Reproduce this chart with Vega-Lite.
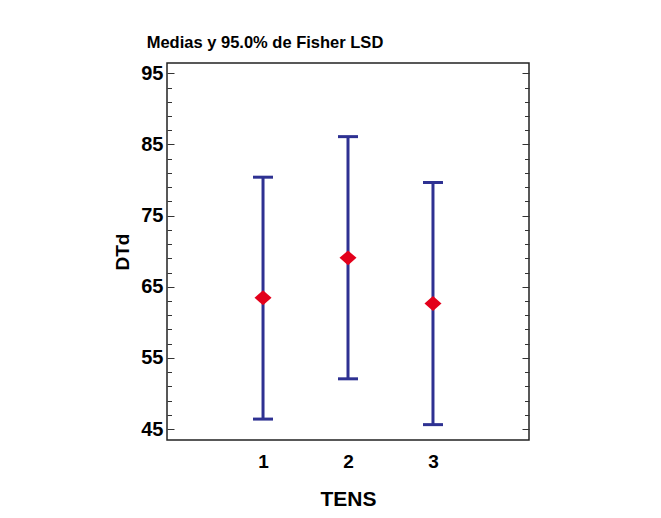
{
  "$schema": "https://vega.github.io/schema/vega-lite/v6.json",
  "width": 362,
  "height": 377,
  "autosize": "none",
  "padding": {"left": 167, "top": 63, "right": 132, "bottom": 78},
  "background": "white",
  "config": {
    "view": {"stroke": "#222222", "strokeWidth": 1.5},
    "font": "Liberation Sans"
  },
  "title": {
    "text": "Medias y 95.0% de Fisher LSD",
    "font": "Liberation Sans",
    "fontSize": 16.5,
    "fontWeight": "bold",
    "color": "black",
    "anchor": "middle",
    "dx": -83,
    "offset": -1,
    "baseline": "alphabetic"
  },
  "data": {
    "values": [
      {"TENS": 1, "mean": 63.44, "lower": 46.4, "upper": 80.4},
      {"TENS": 2, "mean": 69.06, "lower": 52.06, "upper": 86.1},
      {"TENS": 3, "mean": 62.65, "lower": 45.62, "upper": 79.65}
    ]
  },
  "encoding": {
    "x": {
      "field": "TENS",
      "type": "quantitative",
      "title": "TENS",
      "scale": {"domain": [-0.13, 4.13], "nice": false, "zero": false},
      "axis": {
        "values": [1, 2, 3],
        "ticks": false,
        "domain": false,
        "grid": false,
        "labelFont": "Liberation Sans",
        "labelFontSize": 19,
        "labelFontWeight": "bold",
        "labelColor": "black",
        "labelPadding": 12,
        "titleFont": "Liberation Sans",
        "titleFontSize": 21,
        "titleFontWeight": "bold",
        "titleColor": "black",
        "titlePadding": 17
      }
    }
  },
  "layer": [
    {
      "mark": {"type": "rule", "color": "#2E3192", "strokeWidth": 3},
      "encoding": {
        "y": {
          "field": "lower",
          "type": "quantitative",
          "title": "DTd",
          "scale": {"domain": [43.46, 96.45], "nice": false, "zero": false},
          "axis": {
            "values": [45, 47, 49, 51, 53, 55, 57, 59, 61, 63, 65, 67, 69, 71, 73, 75, 77, 79, 81, 83, 85, 87, 89, 91, 93, 95],
            "tickCount": 40,
            "labelExpr": "datum.value % 10 == 5 ? datum.label : ''",
            "labelOverlap": false,
            "ticks": false,
            "domain": false,
            "grid": true,
            "gridColor": "#333333",
            "gridWidth": 1,
            "gridOpacity": 1,
            "gridDash": {"condition": {"test": "datum.value % 10 == 5", "value": [7, 348, 7]}, "value": [4.5, 353, 4.5]},
            "labelFont": "Liberation Sans",
            "labelFontSize": 20,
            "labelFontWeight": "bold",
            "labelColor": "black",
            "labelPadding": 4,
            "titleFont": "Liberation Sans",
            "titleFontSize": 19,
            "titleFontWeight": "bold",
            "titleColor": "black",
            "titlePadding": 8
          }
        },
        "y2": {"field": "upper"}
      }
    },
    {
      "mark": {"type": "tick", "orient": "horizontal", "color": "#2E3192", "size": 20, "thickness": 3, "opacity": 1},
      "encoding": {"y": {"field": "lower", "type": "quantitative", "title": "DTd"}}
    },
    {
      "mark": {"type": "tick", "orient": "horizontal", "color": "#2E3192", "size": 20, "thickness": 3, "opacity": 1},
      "encoding": {"y": {"field": "upper", "type": "quantitative", "title": "DTd"}}
    },
    {
      "mark": {"type": "point", "shape": "M0,-0.88L1,0L0,0.88L-1,0Z", "filled": true, "color": "#E3001B", "size": 289, "opacity": 1},
      "encoding": {"y": {"field": "mean", "type": "quantitative", "title": "DTd"}}
    }
  ]
}
